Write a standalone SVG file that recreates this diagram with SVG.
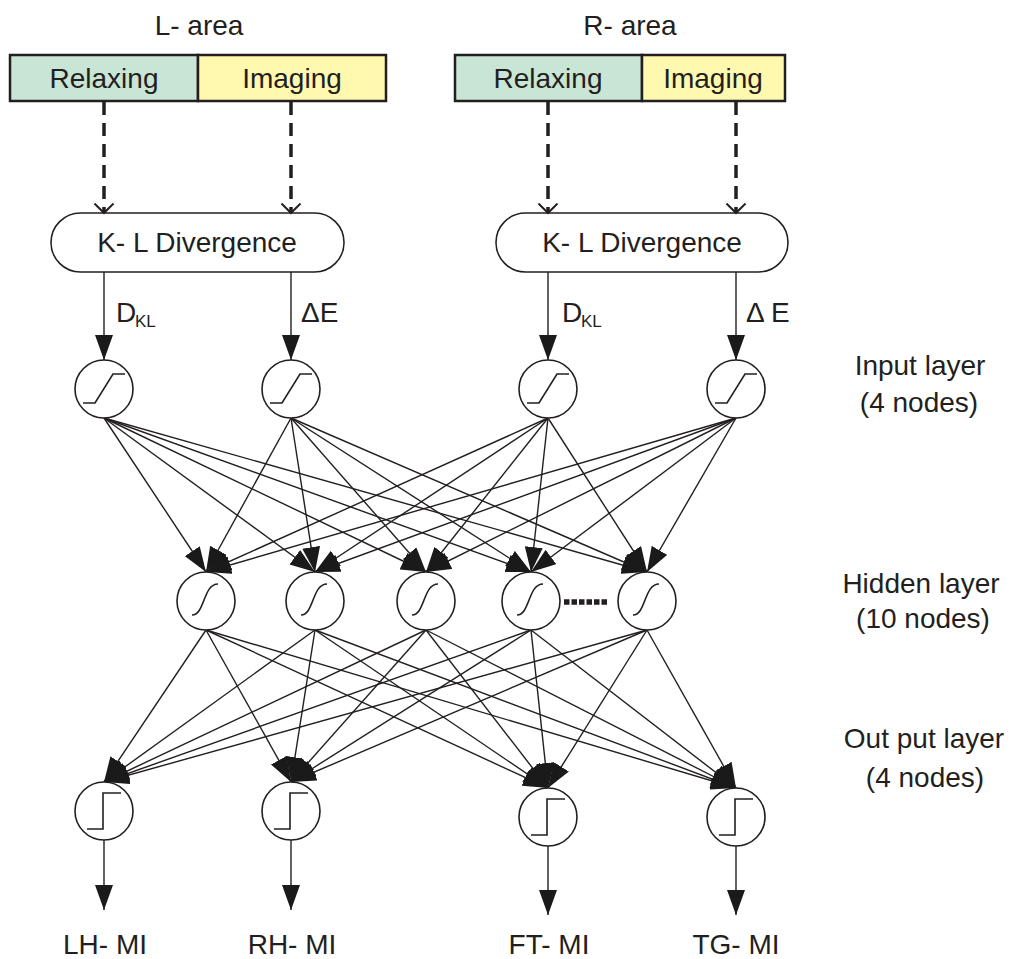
<svg xmlns="http://www.w3.org/2000/svg" xmlns:xlink="http://www.w3.org/1999/xlink" width="1012" height="959" viewBox="0 0 1012 959">
<style>
text{font-family:"Liberation Sans",Arial,sans-serif;fill:#231f20;}
.t{font-size:28px;text-anchor:middle;}
.lbl{font-size:28px;}
.sub{font-size:17px;}
.box{stroke:#231f20;stroke-width:2.5;}
.kl{fill:#fff;stroke:#231f20;stroke-width:1.6;}
.node{fill:#fff;stroke:#231f20;stroke-width:1.6;}
.sym{fill:none;stroke:#231f20;stroke-width:1.6;}
.ln{stroke:#231f20;stroke-width:1.4;fill:none;marker-end:url(#ah);}
.dash{stroke:#231f20;stroke-width:3.5;stroke-dasharray:13 8;fill:none;marker-end:url(#open);}
</style>
<defs>
<marker id="ah" markerUnits="userSpaceOnUse" markerWidth="25" markerHeight="18" viewBox="0 0 25 18" refX="25" refY="9" orient="auto"><path d="M0,0 L25,9 L0,18 z" fill="#1a1a1a"/></marker>
<marker id="open" markerUnits="userSpaceOnUse" markerWidth="12" markerHeight="22" viewBox="0 0 12 22" refX="10.5" refY="11" orient="auto"><path d="M1,1.5 L10.5,11 L1,20.5" fill="none" stroke="#231f20" stroke-width="2"/></marker>
<path id="ramp" class="sym" d="M-21,14 H-9 L9,-15 H21"/>
<path id="sig" class="sym" d="M-14,14 C-1,14 -3,-17 12,-17"/>
<path id="step" class="sym" d="M-17,18 H-1 V-18 H17"/>
</defs>

<g id="L-area">
<text class="t" x="199" y="35">L- area</text>
<rect class="box" x="10" y="55" width="188" height="46" fill="#c9e5d5"/>
<rect class="box" x="198" y="55" width="188" height="46" fill="#fff9b0"/>
<text class="t" x="104" y="88">Relaxing</text>
<text class="t" x="292" y="88">Imaging</text>
</g>
<g id="R-area">
<text class="t" x="630" y="35">R- area</text>
<rect class="box" x="455" y="55" width="187" height="46" fill="#c9e5d5"/>
<rect class="box" x="642" y="55" width="143" height="46" fill="#fff9b0"/>
<text class="t" x="548" y="88">Relaxing</text>
<text class="t" x="713" y="88">Imaging</text>
</g>

<g id="KL-L">
<rect class="kl" x="51" y="213" width="293" height="59" rx="29.5"/>
<text class="t" x="197" y="252">K- L Divergence</text>
</g>
<g id="KL-R">
<rect class="kl" x="496" y="213" width="292" height="59" rx="29.5"/>
<text class="t" x="642" y="252">K- L Divergence</text>
</g>

<g id="connectors">
<line class="dash" x1="104" y1="102" x2="104" y2="213"/>
<line class="dash" x1="291" y1="102" x2="291" y2="213"/>
<line class="dash" x1="548" y1="102" x2="548" y2="213"/>
<line class="dash" x1="736" y1="102" x2="736" y2="213"/>

<line class="ln" x1="104" y1="272" x2="104" y2="360"/>
<line class="ln" x1="291" y1="272" x2="291" y2="360"/>
<line class="ln" x1="548" y1="272" x2="548" y2="360"/>
<line class="ln" x1="736" y1="272" x2="736" y2="360"/>

<line class="ln" x1="104" y1="418" x2="206" y2="572"/>
<line class="ln" x1="104" y1="418" x2="315" y2="572"/>
<line class="ln" x1="104" y1="418" x2="426" y2="572"/>
<line class="ln" x1="104" y1="418" x2="531" y2="572"/>
<line class="ln" x1="104" y1="418" x2="647" y2="572"/>
<line class="ln" x1="291" y1="418" x2="206" y2="572"/>
<line class="ln" x1="291" y1="418" x2="315" y2="572"/>
<line class="ln" x1="291" y1="418" x2="426" y2="572"/>
<line class="ln" x1="291" y1="418" x2="531" y2="572"/>
<line class="ln" x1="291" y1="418" x2="647" y2="572"/>
<line class="ln" x1="548" y1="418" x2="206" y2="572"/>
<line class="ln" x1="548" y1="418" x2="315" y2="572"/>
<line class="ln" x1="548" y1="418" x2="426" y2="572"/>
<line class="ln" x1="548" y1="418" x2="531" y2="572"/>
<line class="ln" x1="548" y1="418" x2="647" y2="572"/>
<line class="ln" x1="736" y1="418" x2="206" y2="572"/>
<line class="ln" x1="736" y1="418" x2="315" y2="572"/>
<line class="ln" x1="736" y1="418" x2="426" y2="572"/>
<line class="ln" x1="736" y1="418" x2="531" y2="572"/>
<line class="ln" x1="736" y1="418" x2="647" y2="572"/>

<line class="ln" x1="206" y1="630" x2="104" y2="782"/>
<line class="ln" x1="206" y1="630" x2="291" y2="782"/>
<line class="ln" x1="206" y1="630" x2="548" y2="788"/>
<line class="ln" x1="206" y1="630" x2="736" y2="788"/>
<line class="ln" x1="315" y1="630" x2="104" y2="782"/>
<line class="ln" x1="315" y1="630" x2="291" y2="782"/>
<line class="ln" x1="315" y1="630" x2="548" y2="788"/>
<line class="ln" x1="315" y1="630" x2="736" y2="788"/>
<line class="ln" x1="426" y1="630" x2="104" y2="782"/>
<line class="ln" x1="426" y1="630" x2="291" y2="782"/>
<line class="ln" x1="426" y1="630" x2="548" y2="788"/>
<line class="ln" x1="426" y1="630" x2="736" y2="788"/>
<line class="ln" x1="531" y1="630" x2="104" y2="782"/>
<line class="ln" x1="531" y1="630" x2="291" y2="782"/>
<line class="ln" x1="531" y1="630" x2="548" y2="788"/>
<line class="ln" x1="531" y1="630" x2="736" y2="788"/>
<line class="ln" x1="647" y1="630" x2="104" y2="782"/>
<line class="ln" x1="647" y1="630" x2="291" y2="782"/>
<line class="ln" x1="647" y1="630" x2="548" y2="788"/>
<line class="ln" x1="647" y1="630" x2="736" y2="788"/>

<line class="ln" x1="104" y1="840" x2="104" y2="910"/>
<line class="ln" x1="291" y1="840" x2="291" y2="910"/>
<line class="ln" x1="548" y1="846" x2="548" y2="915"/>
<line class="ln" x1="736" y1="846" x2="736" y2="915"/>

<line x1="564" y1="602" x2="608" y2="602" stroke="#231f20" stroke-width="5.5" stroke-dasharray="5.5 2"/>
</g>

<g id="edge-labels">
<text class="lbl" x="116" y="322">D</text><text class="sub" x="135" y="327">KL</text>
<text class="lbl" x="301" y="322">ΔE</text>
<text class="lbl" x="562" y="322">D</text><text class="sub" x="581" y="327">KL</text>
<text class="lbl" x="746" y="322">Δ E</text>
</g>

<g id="in1"><circle class="node" cx="104" cy="389" r="29"/><use href="#ramp" x="104" y="389"/></g>
<g id="in2"><circle class="node" cx="291" cy="389" r="29"/><use href="#ramp" x="291" y="389"/></g>
<g id="in3"><circle class="node" cx="548" cy="389" r="29"/><use href="#ramp" x="548" y="389"/></g>
<g id="in4"><circle class="node" cx="736" cy="389" r="29"/><use href="#ramp" x="736" y="389"/></g>

<g id="h1"><circle class="node" cx="206" cy="601" r="29"/><use href="#sig" x="206" y="601"/></g>
<g id="h2"><circle class="node" cx="315" cy="601" r="29"/><use href="#sig" x="315" y="601"/></g>
<g id="h3"><circle class="node" cx="426" cy="601" r="29"/><use href="#sig" x="426" y="601"/></g>
<g id="h4"><circle class="node" cx="531" cy="601" r="29"/><use href="#sig" x="531" y="601"/></g>
<g id="h5"><circle class="node" cx="647" cy="601" r="29"/><use href="#sig" x="647" y="601"/></g>

<g id="o1"><circle class="node" cx="104" cy="811" r="29"/><use href="#step" x="104" y="811"/></g>
<g id="o2"><circle class="node" cx="291" cy="811" r="29"/><use href="#step" x="291" y="811"/></g>
<g id="o3"><circle class="node" cx="548" cy="817" r="29"/><use href="#step" x="548" y="817"/></g>
<g id="o4"><circle class="node" cx="736" cy="817" r="29"/><use href="#step" x="736" y="817"/></g>

<g id="outputs">
<text class="t" x="105" y="954">LH- MI</text>
<text class="t" x="292" y="954">RH- MI</text>
<text class="t" x="549" y="954">FT- MI</text>
<text class="t" x="736" y="954">TG- MI</text>
</g>

<g id="layer-labels">
<text class="t" x="920" y="375">Input  layer</text>
<text class="t" x="919" y="412">(4 nodes)</text>
<text class="t" x="921" y="593">Hidden layer</text>
<text class="t" x="923" y="628">(10 nodes)</text>
<text class="t" x="924" y="748">Out put  layer</text>
<text class="t" x="925" y="787">(4 nodes)</text>
</g>
</svg>
